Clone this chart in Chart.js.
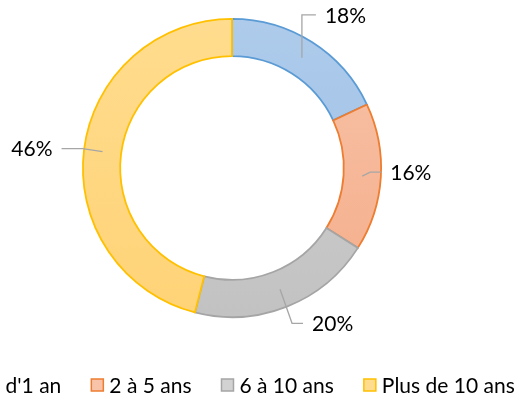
<!DOCTYPE html>
<html>
<head>
<meta charset="utf-8">
<script src="https://cdn.jsdelivr.net/npm/chart.js@4.4.1/dist/chart.umd.min.js"></script>
<style>
  html, body { margin: 0; padding: 0; background: #fff; overflow: hidden; }
  #wrap { position: relative; width: 529px; height: 408px; }
</style>
</head>
<body>
<div id="wrap"><canvas id="donut" width="529" height="408"></canvas></div>
<script>
// données du graphique
const categories = ["Moins d'1 an", "2 à 5 ans", "6 à 10 ans", "Plus de 10 ans"];
const shares = [18, 16, 20, 46];

// couleurs (haut / bas du dégradé, bordure)
const fillTop = ["#AECBEB", "#F8C3A8", "#D2D2D2", "#FFDC8E"];
const fillBottom = ["#9BBEE4", "#F4AD8A", "#C2C2C2", "#FFD377"];
const borderColors = ["#5B9BD5", "#ED7D31", "#A5A5A5", "#FFC000"];

// position des étiquettes : coude du trait, longueur du trait horizontal
const leaders = [
  { ex: 0, ey: -43, h: 14 },
  { ex: 8, ey: -4, h: 11 },
  { ex: 12, ey: 34, h: 11 },
  { ex: -20, ey: -3, h: -21 }
];

const FONT = "21px Lato, 'Open Sans', sans-serif";

function sliceFill(ctx) {
  const i = ctx.dataIndex;
  const chart = ctx.chart;
  const area = chart.chartArea;
  if (!area) return fillTop[i];
  const g = chart.ctx.createLinearGradient(0, area.top, 0, area.bottom);
  g.addColorStop(0, fillTop[i]);
  g.addColorStop(1, fillBottom[i]);
  return g;
}

// étiquettes avec traits de rappel + légende dessinées à la main
const labelsPlugin = {
  id: "labelsPlugin",
  afterDraw(chart) {
    const ctx = chart.ctx;
    const meta = chart.getDatasetMeta(0);
    ctx.save();
    ctx.font = FONT;
    ctx.textBaseline = "middle";
    meta.data.forEach((arc, i) => {
      const p = arc.getProps(["x", "y", "startAngle", "endAngle", "innerRadius", "outerRadius"], true);
      const mid = (p.startAngle + p.endAngle) / 2;
      const r = (p.innerRadius + p.outerRadius) / 2;
      const ax = p.x + Math.cos(mid) * r;
      const ay = p.y + Math.sin(mid) * r;
      const l = leaders[i];
      const ex = ax + l.ex, ey = ay + l.ey;
      const hx = ex + l.h;
      ctx.strokeStyle = "#A6A6A6";
      ctx.lineWidth = 1.3;
      ctx.beginPath();
      ctx.moveTo(ax, ay);
      ctx.lineTo(ex, ey);
      ctx.lineTo(hx, ey);
      ctx.stroke();
      ctx.fillStyle = "#000";
      const txt = shares[i] + "%";
      if (l.h >= 0) {
        ctx.textAlign = "left";
        ctx.fillText(txt, hx + 9, ey + 1);
      } else {
        ctx.textAlign = "right";
        ctx.fillText(txt, hx - 9, ey + 1);
      }
    });

    // légende (déborde à gauche comme l'original)
    const box = 12, gapText = 6, gapItem = 30;
    const widths = categories.map(c => ctx.measureText(c).width);
    const total = widths.reduce((s, w) => s + box + gapText + w, 0) + gapItem * (categories.length - 1);
    const cx = meta.data[0].x - 12;
    let x = cx - total / 2;
    const y = 385;
    ctx.textAlign = "left";
    categories.forEach((c, i) => {
      ctx.fillStyle = fillTop[i];
      ctx.fillRect(x, y - box / 2, box, box);
      ctx.strokeStyle = borderColors[i];
      ctx.lineWidth = 1.5;
      ctx.strokeRect(x, y - box / 2, box, box);
      ctx.fillStyle = "#000";
      ctx.fillText(c, x + box + gapText, y + 1);
      x += box + gapText + widths[i] + gapItem;
    });
    ctx.restore();
  }
};

new Chart(document.getElementById("donut"), {
  type: "doughnut",
  data: {
    labels: categories,
    datasets: [{
      data: shares,
      backgroundColor: sliceFill,
      borderColor: borderColors,
      borderWidth: 1.8,
      borderJoinStyle: "miter"
    }]
  },
  options: {
    responsive: false,
    animation: false,
    cutout: "75%",
    rotation: 0,
    layout: { padding: { left: 82, right: 147, top: 17, bottom: 89 } },
    plugins: {
      legend: { display: false },
      tooltip: { enabled: false }
    }
  },
  plugins: [labelsPlugin]
});
</script>
</body>
</html>
